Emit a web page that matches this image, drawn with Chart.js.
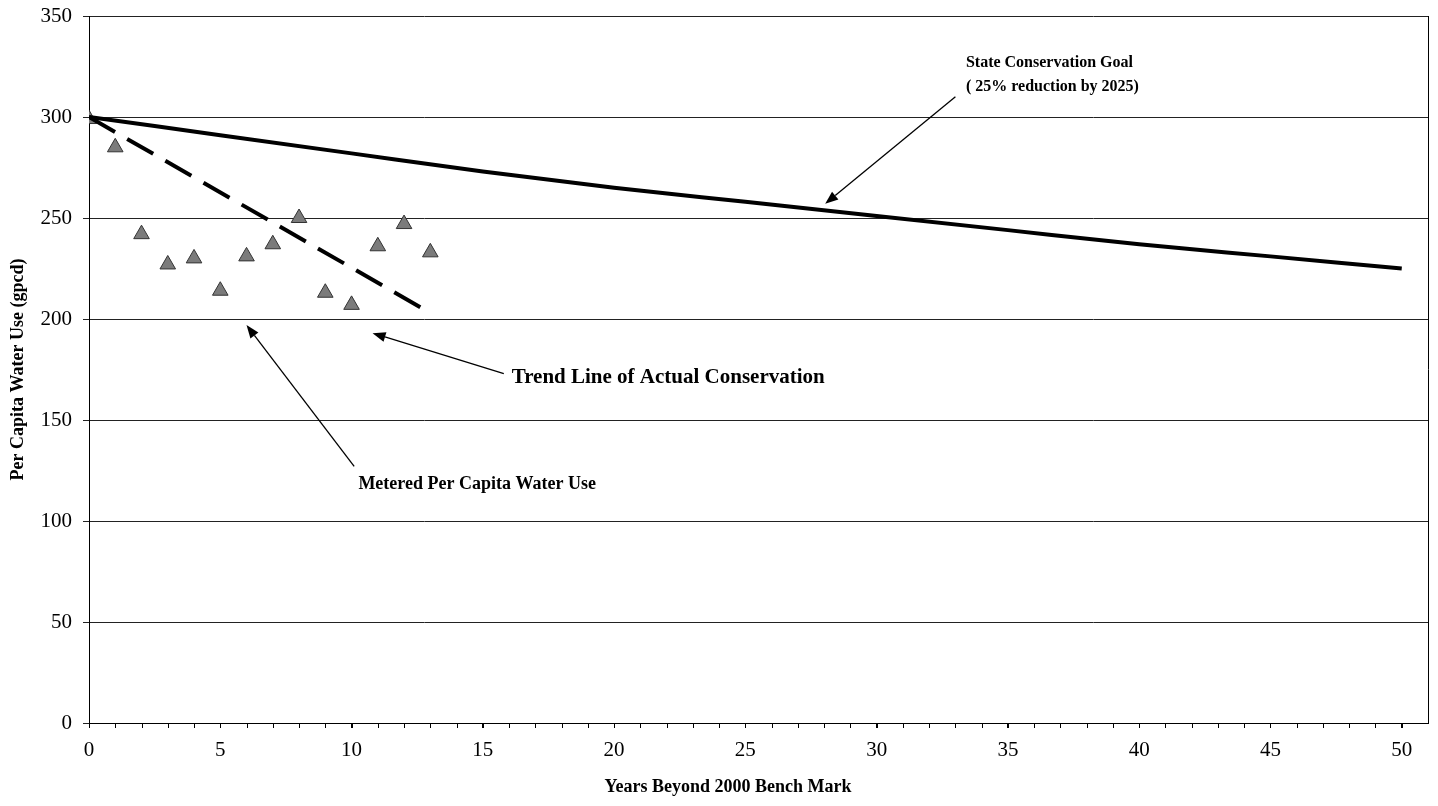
<!DOCTYPE html>
<html>
<head>
<meta charset="utf-8">
<script src="https://cdn.jsdelivr.net/npm/chart.js@4/dist/chart.umd.min.js"></script>
<style>
html,body{margin:0;padding:0;background:#fff;}
#wrap{width:1438px;height:806px;position:relative;}
</style>
</head>
<body>
<div id="wrap"><canvas id="c"></canvas></div>
<script>
// ---- data ----
const xTicks = [0,5,10,15,20,25,30,35,40,45,50];
const yTicks = [0,50,100,150,200,250,300,350];
const goalYears = [0,5,10,15,20,25,30,35,40,45,50];
const goalValues = [300,291,282,273,265,258,251,244,237,231,225];
const trendYears = [0,13];
const trendValues = [300,203];
const meteredYears = [0,1,2,3,4,5,6,7,8,9,10,11,12,13];
const meteredValues = [299,285,242,227,230,214,231,237,250,213,207,236,247,233];
const xTitle = 'Years Beyond 2000 Bench Mark';
const yTitle = 'Per Capita Water Use (gpcd)';
// annotation labels (data coordinates)
const noteTexts = ['State Conservation Goal','( 25% reduction by 2025)','Trend Line of Actual Conservation','Metered Per Capita Water Use'];
const noteX = [33.4,33.4,16.1,10.26];
const noteY = [327,315,171,118];
const noteSize = [16,16,21,18];
// arrows: from (ax1,ay1) to tip (ax2,ay2)
const arrowX1 = [33.0,15.8,10.1];
const arrowY1 = [310,173,127];
const arrowX2 = [28.04,10.8,6.0];
const arrowY2 = [257,193,197];

const SERIF = "'Liberation Serif','Times New Roman',serif";

const extras = {
  id:'extras',
  afterDraw(chart){
    const {ctx, chartArea:a, scales:{x,y}} = chart;
    ctx.save();
    // right border
    ctx.strokeStyle='#000'; ctx.lineWidth=1;
    ctx.beginPath(); ctx.moveTo(Math.round(a.right)+0.5,a.top); ctx.lineTo(Math.round(a.right)+0.5,a.bottom); ctx.stroke();
    // minor ticks
    for(let i=0;i<=50;i++){
      const px=Math.round(x.getPixelForValue(i))+0.5;
      ctx.beginPath(); ctx.moveTo(px,a.bottom); ctx.lineTo(px,a.bottom+5); ctx.stroke();
    }
    // annotations
    ctx.fillStyle='#000';
    ctx.textAlign='left'; ctx.textBaseline='middle';
    noteTexts.forEach((t,i)=>{
      ctx.font="bold "+noteSize[i]+"px "+SERIF;
      ctx.fillText(t, x.getPixelForValue(noteX[i]), y.getPixelForValue(noteY[i]));
    });
    // arrows
    for(let i=0;i<arrowX1.length;i++){
      const x1=x.getPixelForValue(arrowX1[i]), y1=y.getPixelForValue(arrowY1[i]);
      const x2=x.getPixelForValue(arrowX2[i]), y2=y.getPixelForValue(arrowY2[i]);
      const ang=Math.atan2(y2-y1,x2-x1);
      const L=13, W=5;
      const bx=x2-L*Math.cos(ang), by=y2-L*Math.sin(ang);
      ctx.lineWidth=1.3;
      ctx.beginPath(); ctx.moveTo(x1,y1); ctx.lineTo(bx,by); ctx.stroke();
      ctx.beginPath();
      ctx.moveTo(x2,y2);
      ctx.lineTo(bx+W*Math.sin(ang), by-W*Math.cos(ang));
      ctx.lineTo(bx-W*Math.sin(ang), by+W*Math.cos(ang));
      ctx.closePath(); ctx.fill();
    }
    // axis titles
    ctx.font="bold 18px "+SERIF;
    ctx.textAlign='center'; ctx.textBaseline='middle';
    ctx.fillText(xTitle, 728, 787);
    ctx.translate(18, (a.top+a.bottom)/2);
    ctx.rotate(-Math.PI/2);
    ctx.fillText(yTitle, 0, 0);
    ctx.restore();
  }
};

new Chart(document.getElementById('c'), {
  type:'scatter',
  data:{
    datasets:[
      {
        label:'Metered Per Capita Water Use',
        data: meteredYears.map((v,i)=>({x:v,y:meteredValues[i]})),
        pointStyle:'triangle', pointRadius:9, pointHoverRadius:9,
        backgroundColor:'#7b7b7b', borderColor:'#333', borderWidth:1,
        showLine:false, order:3
      },
      {
        label:'Trend Line of Actual Conservation',
        data: trendYears.map((v,i)=>({x:v,y:trendValues[i]})),
        showLine:true, borderColor:'#000', borderWidth:4, borderDash:[30,14],
        pointRadius:0, borderCapStyle:'butt', order:2
      },
      {
        label:'State Conservation Goal',
        data: goalYears.map((v,i)=>({x:v,y:goalValues[i]})),
        showLine:true, borderColor:'#000', borderWidth:4,
        cubicInterpolationMode:'monotone',
        pointRadius:0, order:1
      }
    ]
  },
  options:{
    responsive:true, maintainAspectRatio:false, animation:false,
    layout:{padding:{top:16,right:8,left:0,bottom:0}},
    plugins:{legend:{display:false}, tooltip:{enabled:false}},
    scales:{
      x:{
        type:'linear', min:0, max:51,
        afterBuildTicks(ax){ ax.ticks = xTicks.map(v=>({value:v})); },
        afterFit(ax){ ax.height = 83; ax.paddingLeft = 0; ax.paddingRight = 0; },
        ticks:{color:'#000', font:{family:SERIF,size:21}, padding:10, maxRotation:0},
        grid:{drawOnChartArea:false, drawTicks:true, tickLength:5, color:'#000'},
        border:{color:'#000', width:1}
      },
      y:{
        min:0, max:350,
        afterBuildTicks(ax){ ax.ticks = yTicks.map(v=>({value:v})); },
        afterFit(ax){ ax.width = 89; ax.paddingTop = 0; ax.paddingBottom = 0; },
        ticks:{color:'#000', font:{family:SERIF,size:21}, padding:11},
        grid:{color:'#222', lineWidth:1, tickLength:6},
        border:{color:'#000', width:1}
      }
    }
  },
  plugins:[extras]
});
</script>
</body>
</html>
